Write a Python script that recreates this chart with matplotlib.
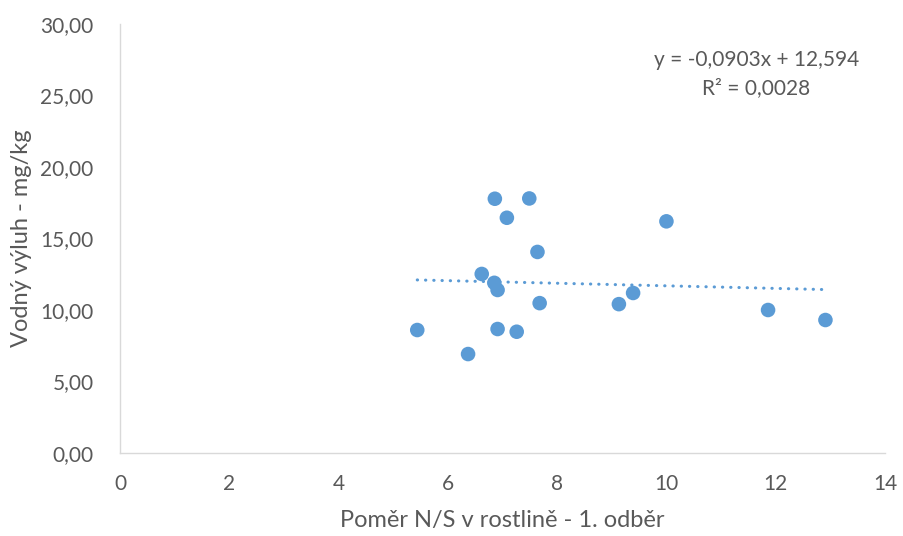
import matplotlib.pyplot as plt
import numpy as np
from matplotlib.ticker import FuncFormatter

plt.rcParams["font.family"] = ["Lato", "DejaVu Sans"]

# Poměr N/S v rostlině (1. odběr) vs. vodný výluh (mg/kg)
ns_ratio = [5.44, 6.37, 6.62, 6.86, 6.85, 6.91, 6.91, 7.08, 7.26, 7.49,
            7.64, 7.68, 9.13, 9.39, 10.00, 11.86, 12.91]
water_extract = [8.60, 6.92, 12.52, 17.78, 11.90, 11.40, 8.67, 16.45, 8.48, 17.80,
                 14.06, 10.48, 10.41, 11.19, 16.20, 10.00, 9.30]

# lineární trend (z grafu)
slope = -0.0903
intercept = 12.594
r2 = 0.0028

BLUE = "#5B9BD5"
TXT = "#595959"
GRID = "#D9D9D9"

fig = plt.figure(figsize=(9.04, 5.36), dpi=100)
ax = fig.add_axes([120 / 904, 83 / 536, 765 / 904, 429 / 536])

ax.scatter(ns_ratio, water_extract, s=110, color=BLUE, edgecolors="none", zorder=3)

xs = np.array([min(ns_ratio), max(ns_ratio)])
ax.plot(xs, slope * xs + intercept, color=BLUE, lw=2.2,
        linestyle=(0, (0.1, 2.6)), dash_capstyle="round", zorder=2)

ax.text(0.832, 0.915, f"y = {slope:.4f}x + {intercept:.3f}".replace(".", ","),
        transform=ax.transAxes, ha="center", va="center", fontsize=15, color=TXT)
ax.text(0.832, 0.85, f"R² = {r2:.4f}".replace(".", ","),
        transform=ax.transAxes, ha="center", va="center", fontsize=15, color=TXT)

ax.set_xlim(0, 14)
ax.set_ylim(0, 30)
ax.set_xticks(np.arange(0, 15, 2))
ax.set_yticks(np.arange(0, 31, 5))
ax.yaxis.set_major_formatter(FuncFormatter(lambda v, p: f"{v:.2f}".replace(".", ",")))

for s in ["top", "right"]:
    ax.spines[s].set_visible(False)
for s in ["left", "bottom"]:
    ax.spines[s].set_color(GRID)
    ax.spines[s].set_linewidth(1)

ax.tick_params(axis="both", length=0, labelsize=15, colors=TXT)
ax.tick_params(axis="y", pad=19)
ax.tick_params(axis="x", pad=15)

ax.set_xlabel("Poměr N/S v rostlině - 1. odběr", fontsize=17, color=TXT, labelpad=12)
ax.set_ylabel("Vodný výluh - mg/kg", fontsize=17, color=TXT, labelpad=6)

fig.savefig("out.png", dpi=100)
